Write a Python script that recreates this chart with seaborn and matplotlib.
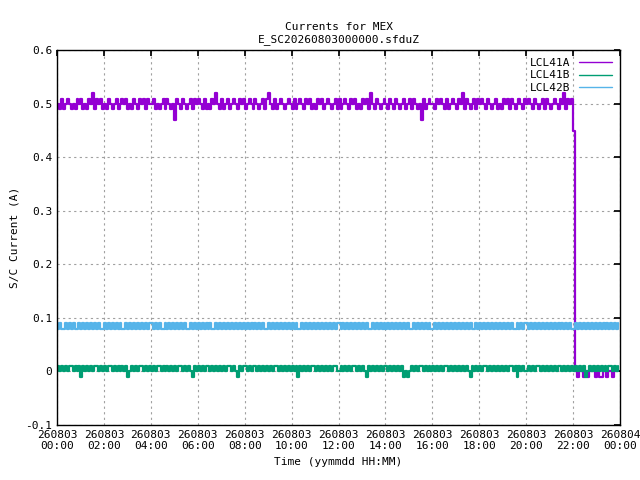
import numpy as np
import matplotlib.pyplot as plt
import seaborn as sns

sns.set_theme(style="white")
plt.rcParams["font.family"] = ["DejaVu Sans Mono"]
plt.rcParams["text.color"] = "black"
plt.rcParams["axes.labelcolor"] = "black"
plt.rcParams["xtick.color"] = "black"
plt.rcParams["ytick.color"] = "black"

# readings every 5 minutes, coded per character
code_a = {"2": 0.47, "3": 0.48, "4": 0.49, "5": 0.50, "6": 0.51, "7": 0.52,
          "h": 0.45, "z": 0.0, "m": -0.01}
code_b = {"0": 0.0, "1": 0.01, "m": -0.01}
code_c = {"8": 0.08, "9": 0.09}

lcl41a_raw = ("546456545465645465746564546545645656454654656465"
              "564545646545265465456465654645465754645645654656"
              "456546545646754645654565464565465645465645654564"
              "645654656454656475465456546546545645646545264565"
              "546565464565465746545646565465456454656465456546"
              "565465456465456546574656hzmzzmzmzzzmzmmzzmzzmzzz")
lcl41b_raw = ("101010110101m10101011010101101010101m01010110101"
              "010110101010101101010m1010101101010101011010m101"
              "101011010101010110101010101m10101011010101010110"
              "01010101101010m101010101101010101m0m010101101010"
              "1010101101010101010m10101011010101010101101m1010"
              "010101101010101011010101010101m01010101010110101")
lcl42b_raw = ("898898989889898989898988989898989889898989898989"
              "989898898989898989889898989898988989898989898989"
              "898989898988989898989898989889898989898989898989"
              "989898989898989889898989898989898989889898989898"
              "898989898989898989898898989898989898989898898989"
              "989898989898989898989898898989898989898989898989")

series = [("LCL41A", lcl41a_raw, code_a, "#9400d3"),
          ("LCL41B", lcl41b_raw, code_b, "#009e73"),
          ("LCL42B", lcl42b_raw, code_c, "#56b4e9")]

tick_hours = np.arange(0, 25, 2)
tick_labels = [f"260803\n{h:02d}:00" for h in tick_hours[:-1]] + ["260804\n00:00"]

fig = plt.figure(figsize=(6.4, 4.8), dpi=100)
ax = fig.add_axes([0.089, 0.115, 0.88, 0.78])
for name, raw, code, color in series:
    vals = [code[c] for c in raw]
    t = np.arange(len(vals)) * 5 / 60
    sns.lineplot(x=t, y=vals, ax=ax, color=color, lw=1.6, label=name,
                 drawstyle="steps-post", estimator=None)

ax.set_xlim(0, 24)
ax.set_ylim(-0.1, 0.6)
ax.set_xticks(tick_hours)
ax.set_xticklabels(tick_labels)
ax.set_yticks(np.arange(-0.1, 0.61, 0.1))
ax.set_yticklabels(["-0.1", "0", "0.1", "0.2", "0.3", "0.4", "0.5", "0.6"])
ax.tick_params(direction="in", labelsize=8, length=4, top=True, right=True)
ax.grid(True, color="#a0a0a0", linestyle=(0, (2, 3)), lw=0.8)
for s in ax.spines.values():
    s.set_color("black")
    s.set_linewidth(1)
ax.set_xlabel("Time (yymmdd HH:MM)", fontsize=8)
ax.set_ylabel("S/C Current (A)", fontsize=8)
ax.set_title("Currents for MEX\nE_SC20260803000000.sfduZ", fontsize=8)
leg = ax.legend(loc="upper right", fontsize=8, frameon=False, markerfirst=False,
                handlelength=3, borderaxespad=0.3, labelspacing=0.2)
for line in leg.get_lines():
    line.set_linewidth(1)
fig.savefig("out.png", dpi=100)
